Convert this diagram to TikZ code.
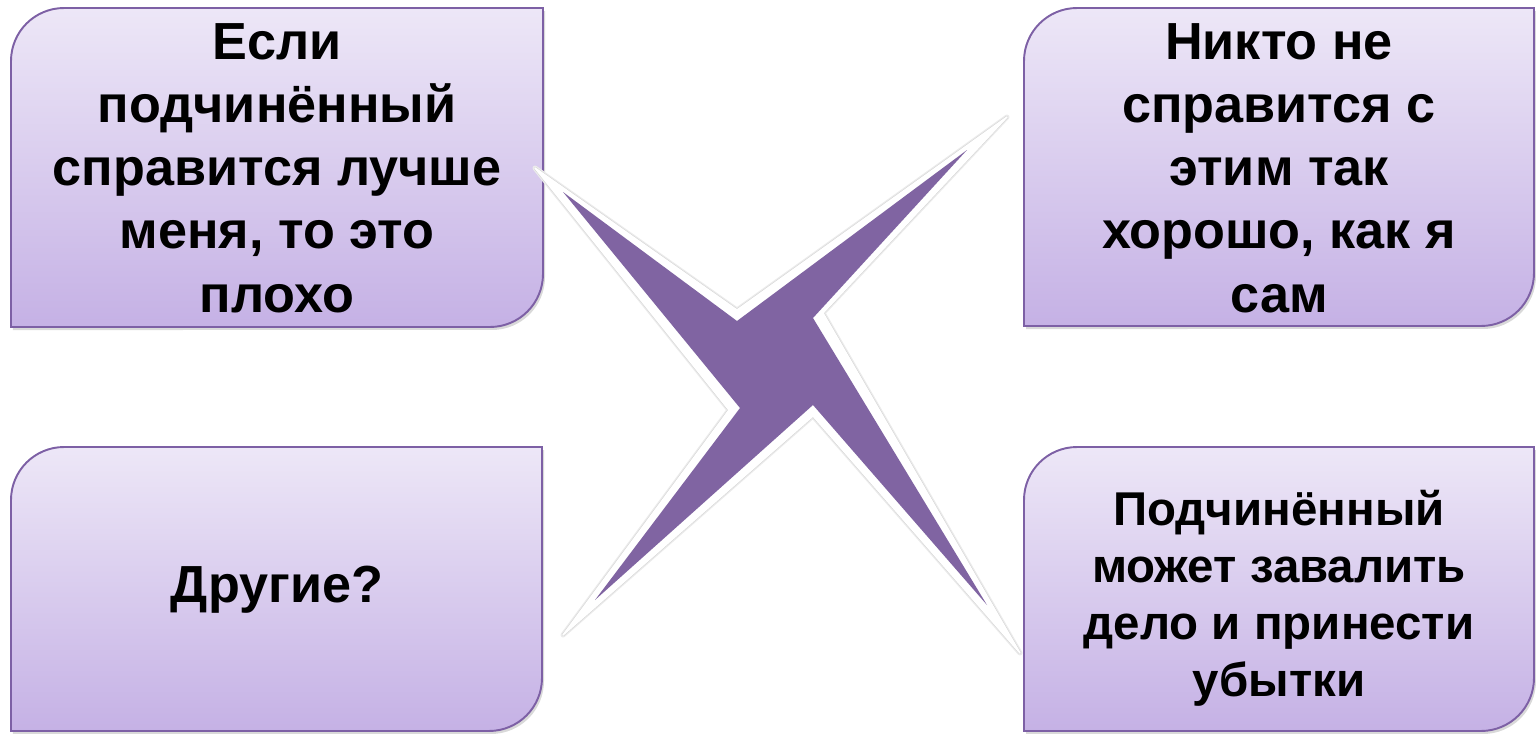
\documentclass[tikz,border=0pt]{standalone}
\usepackage{fontspec}
\setmainfont{Liberation Sans}
\usetikzlibrary{shadows}
\definecolor{boxtop}{RGB}{237,231,247}
\definecolor{boxbot}{RGB}{197,177,229}
\definecolor{boxline}{RGB}{125,96,165}
\definecolor{starfill}{RGB}{128,100,162}
\tikzset{
  card/.style={draw=boxline, line width=1.1pt, top color=boxtop, bottom color=boxbot,
    drop shadow={opacity=0.3, shadow xshift=0.04cm, shadow yshift=-0.06cm}},
  cardtext/.style={align=center, font=\fontsize{29.7}{36}\selectfont\bfseries, text=black},
  smalltext/.style={align=center, font=\fontsize{27}{32.5}\selectfont\bfseries, text=black},
  starin/.style={fill=starfill}
}
\newcommand\mycard[4]{% left, top, right, bottom in pixels (y downward)
  \path[card] (#1,#4) -- (#1,#2+53) arc[start angle=180,end angle=90,radius=1.06cm]
    -- (#3,#2) -- (#3,#4-53) arc[start angle=0,end angle=-90,radius=1.06cm] -- cycle;}
% outer (white) outline of the star: colour, stroke width
\newcommand\staroutline[2]{%
  \path[fill=#1, draw=#1, line width=#2, line join=round]
    (o1) -- (n1) -- (o2) -- (n2) -- (o3) -- (n3) -- (o4) -- (n4) -- cycle;}
\begin{document}
\begin{tikzpicture}[x=0.02cm,y=-0.02cm]
\useasboundingbox (0,0) rectangle (1536,734);
\mycard{11}{8}{543}{327}
\mycard{1024}{8}{1534}{326}
\mycard{11}{447}{542}{731}
\mycard{1024}{447}{1534}{731}
% star outline: tips and notches
\coordinate (o1) at (535,168);
\coordinate (n1) at (737,310);
\coordinate (o2) at (1007,117);
\coordinate (n2) at (823,313);
\coordinate (o3) at (1020,653);
\coordinate (n3) at (813,416);
\coordinate (o4) at (563,635);
\coordinate (n4) at (729,410);
% star body vertices
\coordinate (s1) at (563,192);
\coordinate (s2) at (737,321);
\coordinate (s3) at (967,150);
\coordinate (s4) at (813,318);
\coordinate (s5) at (987,605);
\coordinate (s6) at (813,405);
\coordinate (s7) at (595,600);
\coordinate (s8) at (740,408);
% soft shadow
\begin{scope}[shift={(1,1.5)}]
\staroutline{black!8}{0.10cm}
\staroutline{black!17}{0.05cm}
\end{scope}
% white outline
\staroutline{white}{0.03cm}
% purple body
\path[starin] (s1) -- (s2) -- (s3) -- (s4) -- (s5) -- (s6) -- (s7) -- (s8) -- cycle;
\node[cardtext] (tl) at (277,168) {Если\\подчинённый\\справится лучше\\меня, то это\\плохо};
\node[cardtext] (tr) at (1279,168) {Никто не\\справится с\\этим так\\хорошо, как я\\сам};
\node[cardtext] (bl) at (277,590) {Другие?};
\node[smalltext] (br) at (1279,598) {Подчинённый\\может завалить\\дело и принести\\убытки};
\end{tikzpicture}
\end{document}
